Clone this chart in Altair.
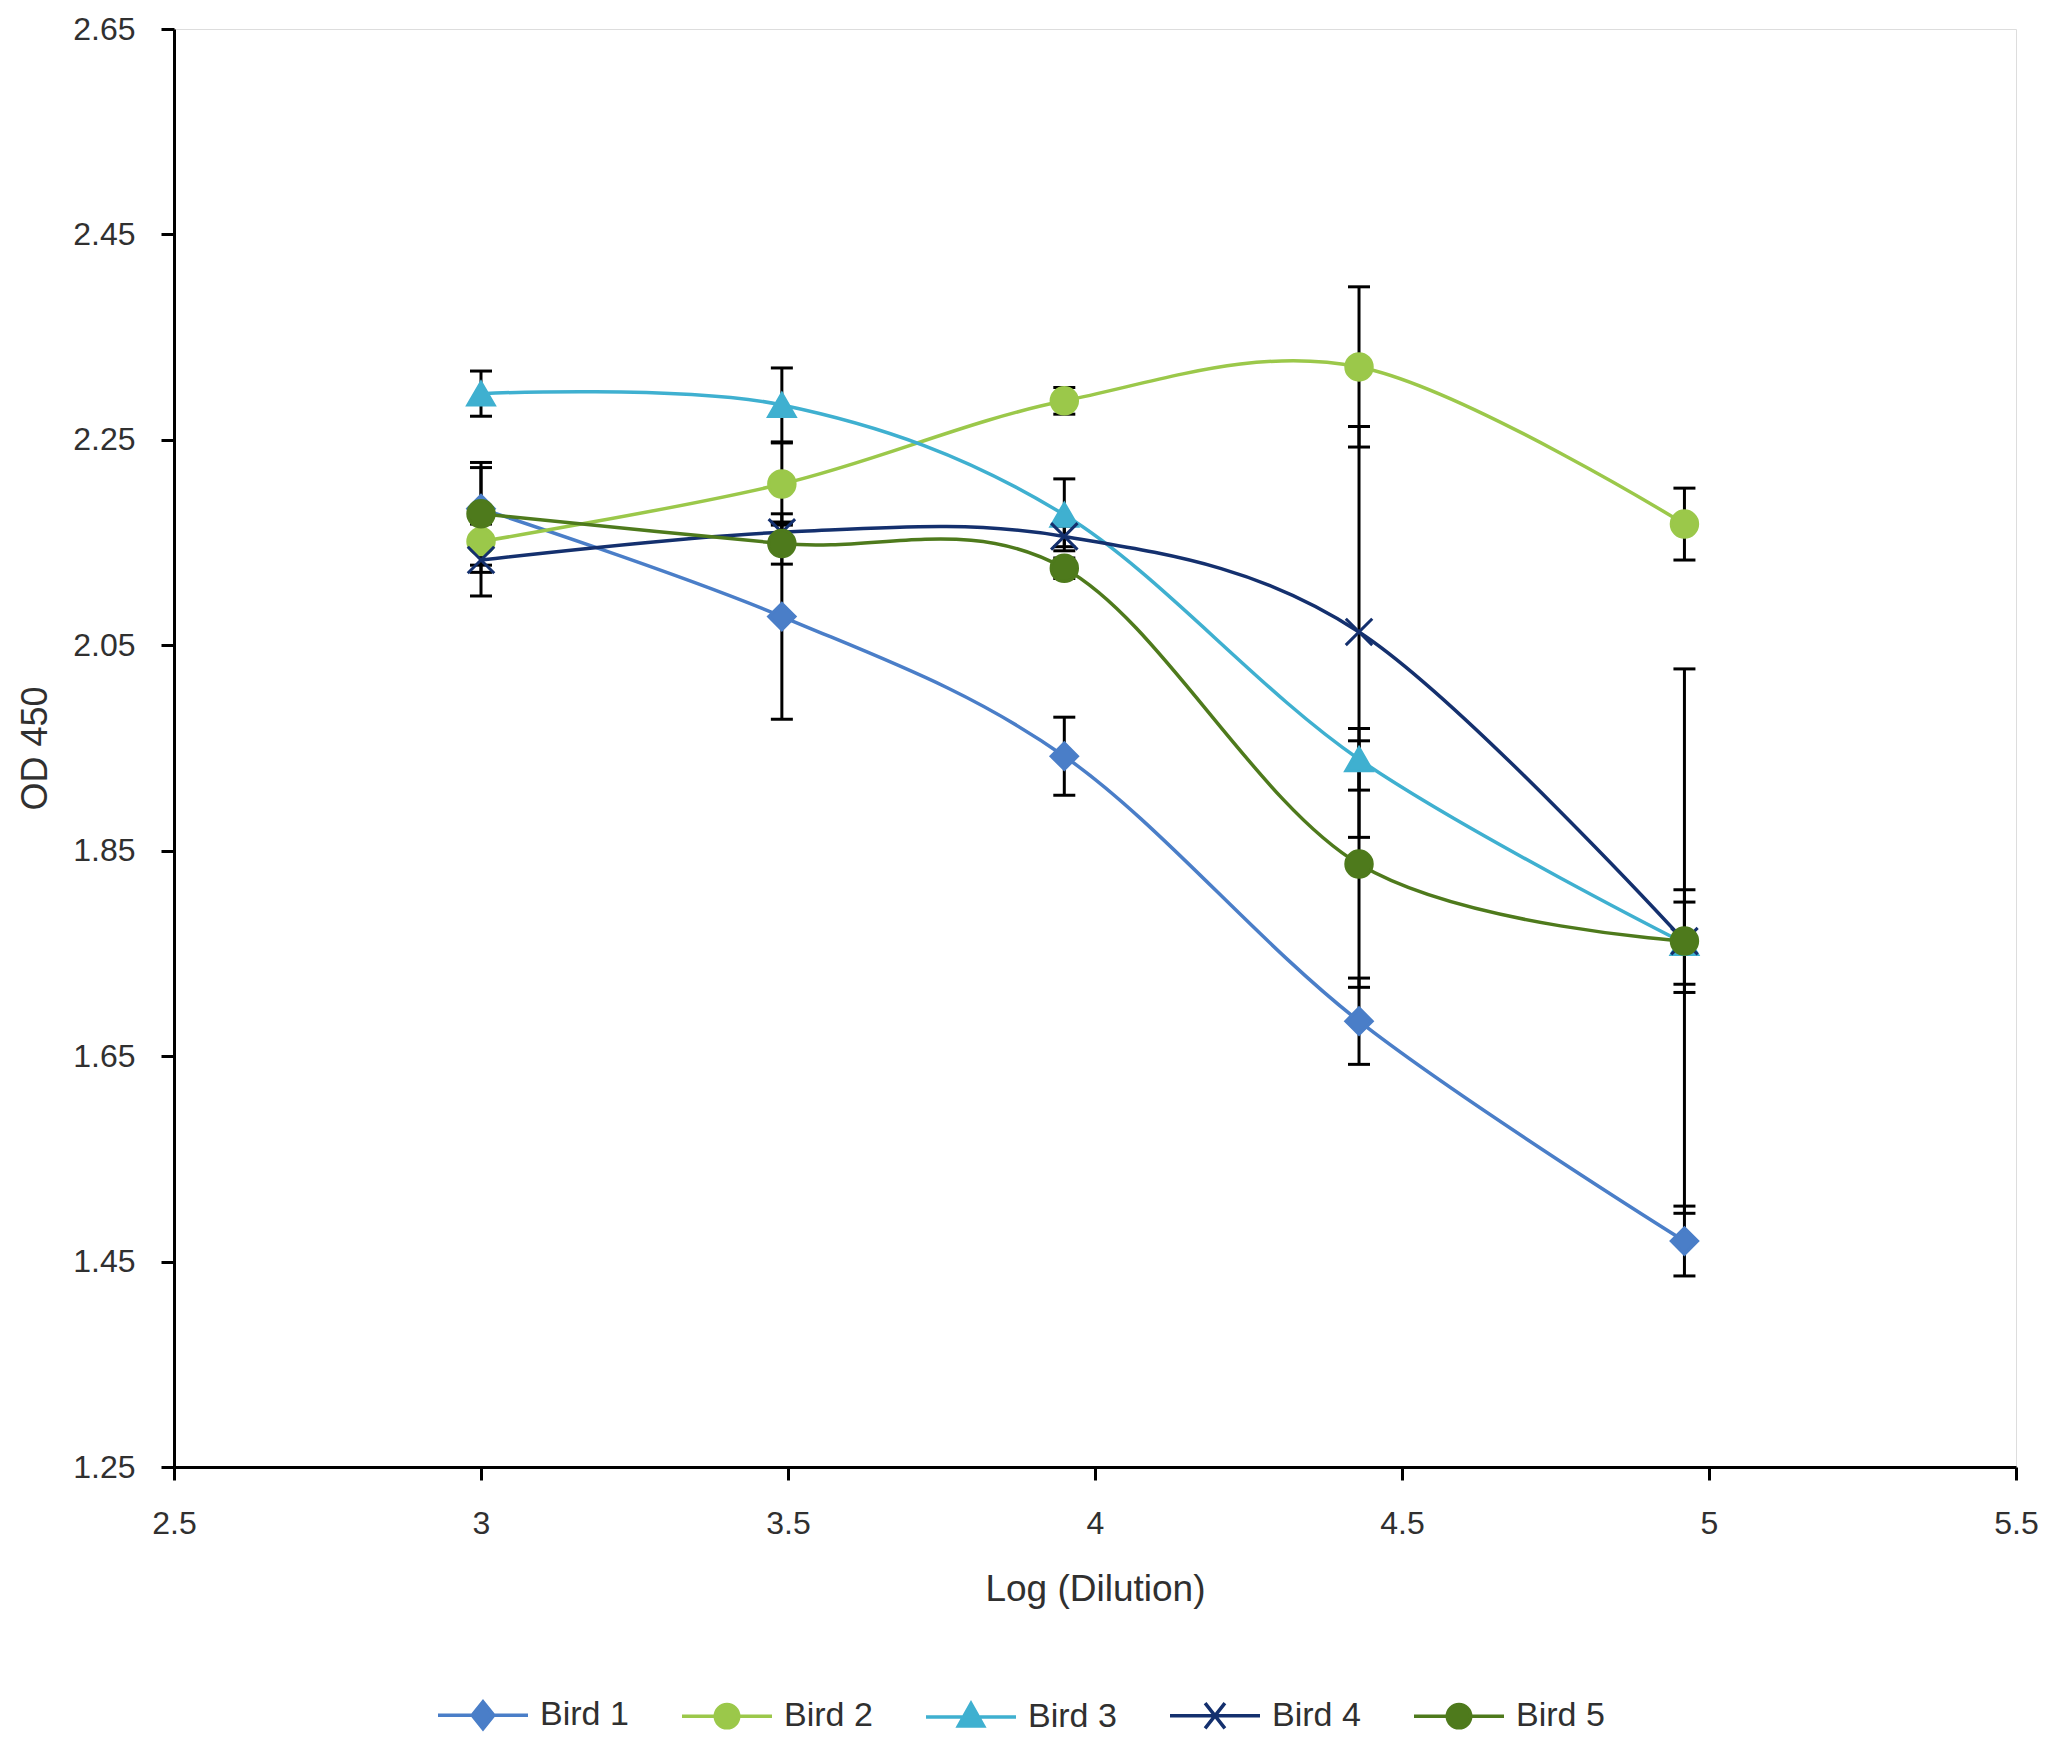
import altair as alt
import pandas as pd

# ---- data ----
birds = ["Bird 1", "Bird 2", "Bird 3", "Bird 4", "Bird 5"]
log_dilution = [3.0, 3.49, 3.95, 4.43, 4.96]
od_bird1 = [2.183, 2.078, 1.942, 1.684, 1.470]
od_bird2 = [2.151, 2.207, 2.288, 2.321, 2.168]
od_bird3 = [2.295, 2.284, 2.177, 1.939, 1.760]
od_bird4 = [2.133, 2.160, 2.156, 2.063, 1.762]
od_bird5 = [2.178, 2.149, 2.125, 1.837, 1.762]
err_bird1 = [0.040, 0.100, 0.038, 0.042, 0.034]
err_bird2 = [0.030, 0.040, 0.013, 0.078, 0.035]
err_bird3 = [0.022, 0.036, 0.035, 0.030, 0.040]
err_bird4 = [0.035, 0.010, 0.010, 0.200, 0.265]
err_bird5 = [0.050, 0.020, 0.010, 0.120, 0.050]
y_ticks = [1.25, 1.45, 1.65, 1.85, 2.05, 2.25, 2.45, 2.65]
x_ticks = [2.5, 3, 3.5, 4, 4.5, 5, 5.5]

colors = ["#4a7ec8", "#9bc84a", "#3fb0d0", "#14306e", "#4e7a1c"]
x_path = "M-1,-1L1,1M-1,1L1,-1"
marker_shapes = ["diamond", "circle", "triangle-up", x_path, "circle"]
# legend symbols: a short line with the marker in the middle
legend_shapes = [
    "M-1,0H1M0,-0.3L0.24,0L0,0.3L-0.24,0Z",
    "M-1,0H1M-0.26,0A0.26,0.26,0,1,0,0.26,0A0.26,0.26,0,1,0,-0.26,0Z",
    "M-1,0H1M0,-0.3L0.28,0.2L-0.28,0.2Z",
    "M-1,0H1M-0.22,-0.28L0.22,0.28M-0.22,0.28L0.22,-0.28",
    "M-1,0H1M-0.26,0A0.26,0.26,0,1,0,0.26,0A0.26,0.26,0,1,0,-0.26,0Z",
]

series = [od_bird1, od_bird2, od_bird3, od_bird4, od_bird5]
errors = [err_bird1, err_bird2, err_bird3, err_bird4, err_bird5]
rows = []
for b, ys, es in zip(birds, series, errors):
    for i, (x, y, e) in enumerate(zip(log_dilution, ys, es)):
        rows.append({"Bird": b, "order": i, "x": x, "y": y, "lo": y - e, "hi": y + e})
df = pd.DataFrame(rows)

FONT = "Liberation Sans"
TXT = "#303030"

x_enc = alt.X("x:Q",
              scale=alt.Scale(domain=[2.5, 5.5], nice=False, zero=False),
              axis=alt.Axis(values=x_ticks, format="~g", title="Log (Dilution)",
                            grid=False, domainColor="black", domainWidth=3,
                            tickColor="black", tickWidth=3, tickSize=13,
                            labelFontSize=32, labelFont=FONT, labelColor=TXT,
                            labelPadding=28, titleFontSize=37, titleFont=FONT,
                            titleColor=TXT, titleFontWeight="normal", titlePadding=32,
                            labelFlush=False))
y_scale = alt.Scale(domain=[1.25, 2.65], nice=False, zero=False)
y_axis = alt.Axis(values=y_ticks, format=".2f", title="OD 450", grid=False,
                  domainColor="black", domainWidth=3, tickColor="black",
                  tickWidth=3, tickSize=13, labelFontSize=32, labelFont=FONT,
                  labelColor=TXT, labelPadding=26, titleFontSize=36, titleFont=FONT,
                  titleColor=TXT, titleFontWeight="normal", titlePadding=18,
                  labelFlush=False)

color_scale = alt.Scale(domain=birds, range=colors)

base = alt.Chart(df)

lines = base.mark_line(interpolate="cardinal", strokeWidth=3.5).encode(
    x=x_enc,
    y=alt.Y("y:Q", scale=y_scale, axis=y_axis),
    color=alt.Color("Bird:N", scale=color_scale, legend=None),
    order="order:Q",
)

err_rule = base.mark_rule(color="black", strokeWidth=3).encode(
    x="x:Q", y="lo:Q", y2="hi:Q")
err_lo = base.mark_tick(color="black", orient="horizontal", size=22, thickness=3,
                        opacity=1).encode(x="x:Q", y="lo:Q")
err_hi = base.mark_tick(color="black", orient="horizontal", size=22, thickness=3,
                        opacity=1).encode(x="x:Q", y="hi:Q")

points = base.mark_point(filled=True, size=700, opacity=1, strokeWidth=3).encode(
    x="x:Q",
    y="y:Q",
    color=alt.Color("Bird:N", scale=color_scale, legend=None),
    stroke=alt.Stroke("Bird:N", scale=color_scale, legend=None),
    shape=alt.Shape("Bird:N", scale=alt.Scale(domain=birds, range=marker_shapes),
                    legend=None),
)

data_layer = alt.layer(lines, err_rule, err_lo, err_hi, points)

leg = alt.Legend(title=None, orient="none", direction="horizontal",
                 legendX=262, legendY=1639, symbolSize=8100, symbolStrokeWidth=3.5,
                 labelFontSize=34, labelFont=FONT, labelColor=TXT, labelOffset=10,
                 columnPadding=46, symbolOpacity=1)

legend_layer = base.mark_point(filled=True, size=8100, opacity=1).encode(
    x="x:Q",
    y="y:Q",
    color=alt.Color("Bird:N", scale=alt.Scale(domain=birds, range=colors), legend=leg),
    stroke=alt.Stroke("Bird:N", scale=alt.Scale(domain=birds, range=colors), legend=leg),
    shape=alt.Shape("Bird:N", scale=alt.Scale(domain=birds, range=legend_shapes), legend=leg),
).transform_filter("false")

chart = alt.layer(data_layer, legend_layer).resolve_scale(
    color="independent", stroke="independent", shape="independent"
).properties(
    width=1842, height=1438,
    autosize=alt.AutoSizeParams(type="none"),
    padding={"left": 166, "top": 21, "right": 23, "bottom": 280},
).configure_view(stroke=None).configure(background="white")

chart.save("out.html", embed_options={"renderer": "svg", "actions": False})
